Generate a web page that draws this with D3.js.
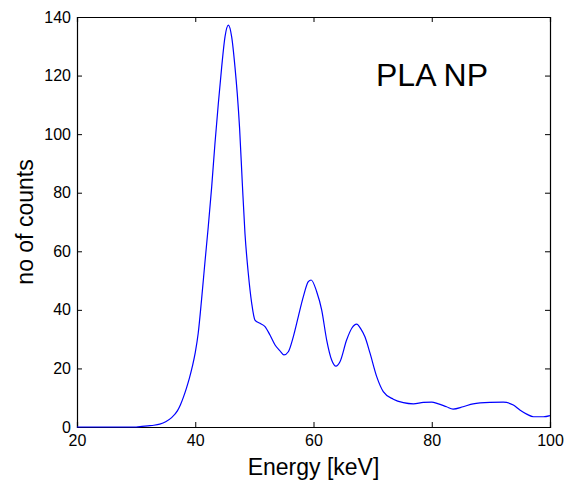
<!DOCTYPE html>
<html>
<head>
<meta charset="utf-8">
<script src="https://cdn.jsdelivr.net/npm/d3@7"></script>
<style>
  body { margin: 0; background: #fff; }
  svg { display: block; }
  text { font-family: "Liberation Sans", Arial, sans-serif; fill: #000; }
</style>
</head>
<body>
<svg id="chart" width="575" height="485"></svg>
<script>
const energy = [20, 25, 30, 31, 32, 33, 34, 35, 36, 37, 37.5, 38, 38.5, 39, 39.5, 40, 40.5, 41.09, 41.65, 42.2, 42.78, 43.34, 43.9, 44.47, 45.03, 45.6, 46.16, 46.72, 47.1, 47.5, 47.96, 48.41, 48.97, 49.55, 50.1, 50.95, 51.8, 52.64, 53.5, 54.33, 55.0, 55.74, 56.58, 57.43, 58.28, 59.12, 59.6, 60.54, 61.38, 62.23, 63.07, 63.8, 64.48, 65.6, 66.5, 67.3, 68.0, 68.7, 69.56, 70.69, 71.8, 73.5, 75.2, 76.9, 78.57, 80, 81, 82.5, 83.6, 85.3, 87, 89.85, 92.1, 93.8, 94.9, 96.06, 97.2, 98.9, 100];
const counts = [0, 0, 0, 0.2, 0.4, 0.6, 1.0, 1.8, 3.2, 5.6, 7.6, 10.2, 13.2, 16.6, 20.6, 25.4, 32, 44, 56.5, 68.4, 82, 97, 110.4, 122.9, 133.2, 137.2, 133.2, 122.9, 114, 102, 83.2, 66.1, 52.5, 42.2, 36.5, 35.4, 34.3, 31.4, 28, 26, 24.6, 25.7, 30.8, 37.7, 44.5, 49.6, 50.2, 46.2, 40, 29.7, 22.9, 20.8, 22.3, 29.7, 33.8, 35.1, 33.5, 30.8, 25.2, 17.2, 12.1, 9.5, 8.3, 7.9, 8.4, 8.5, 8.0, 6.9, 6.1, 6.9, 7.9, 8.4, 8.5, 7.5, 5.8, 4.4, 3.5, 3.5, 3.9];
const xTicks = [20, 40, 60, 80, 100];
const yTicks = [0, 20, 40, 60, 80, 100, 120, 140];
const xLabel = "Energy [keV]";
const yLabel = "no of counts";
const annotation = "PLA NP";

const svg = d3.select("#chart");
const L = 77, R = 550, T = 17, B = 427;
const x = d3.scaleLinear().domain([20, 100]).range([L, R]);
const y = d3.scaleLinear().domain([0, 140]).range([B, T]);

const tick = 5;
const gx = svg.append("g").attr("transform", `translate(0,${B})`)
  .call(d3.axisBottom(x).tickValues(xTicks).tickSize(-tick).tickPadding(8).tickFormat(d3.format("d")));
const gxt = svg.append("g").attr("transform", `translate(0,${T})`)
  .call(d3.axisTop(x).tickValues(xTicks).tickSize(-tick).tickFormat(""));
const gy = svg.append("g").attr("transform", `translate(${L},0)`)
  .call(d3.axisLeft(y).tickValues(yTicks).tickSize(-tick).tickPadding(6).tickFormat(d3.format("d")));
const gyr = svg.append("g").attr("transform", `translate(${R},0)`)
  .call(d3.axisRight(y).tickValues(yTicks).tickSize(-tick).tickFormat(""));

[gx, gxt, gy, gyr].forEach(g => {
  g.select(".domain").attr("stroke", "#000").attr("stroke-width", 1.2);
  g.selectAll(".tick line").attr("stroke", "#000").attr("stroke-width", 1);
  g.selectAll("text").style("font-size", "16px").attr("fill", "#000")
    .style("font-family", '"Liberation Sans", Arial, sans-serif');
});

const data = energy.map((e, i) => ({ e, c: counts[i] }));
const line = d3.line().x(d => x(d.e)).y(d => y(d.c)).curve(d3.curveMonotoneX);
svg.append("path").datum(data)
  .attr("d", line)
  .attr("fill", "none")
  .attr("stroke", "#0000ff")
  .attr("stroke-width", 1.2);

svg.append("text").attr("x", (L + R) / 2).attr("y", 475)
  .attr("text-anchor", "middle").style("font-size", "23px").text(xLabel);
svg.append("text").attr("transform", `translate(33,${(T + B) / 2}) rotate(-90)`)
  .attr("text-anchor", "middle").style("font-size", "23px").text(yLabel);
svg.append("text").attr("x", 376).attr("y", 86)
  .style("font-size", "32px").text(annotation);
</script>
</body>
</html>
